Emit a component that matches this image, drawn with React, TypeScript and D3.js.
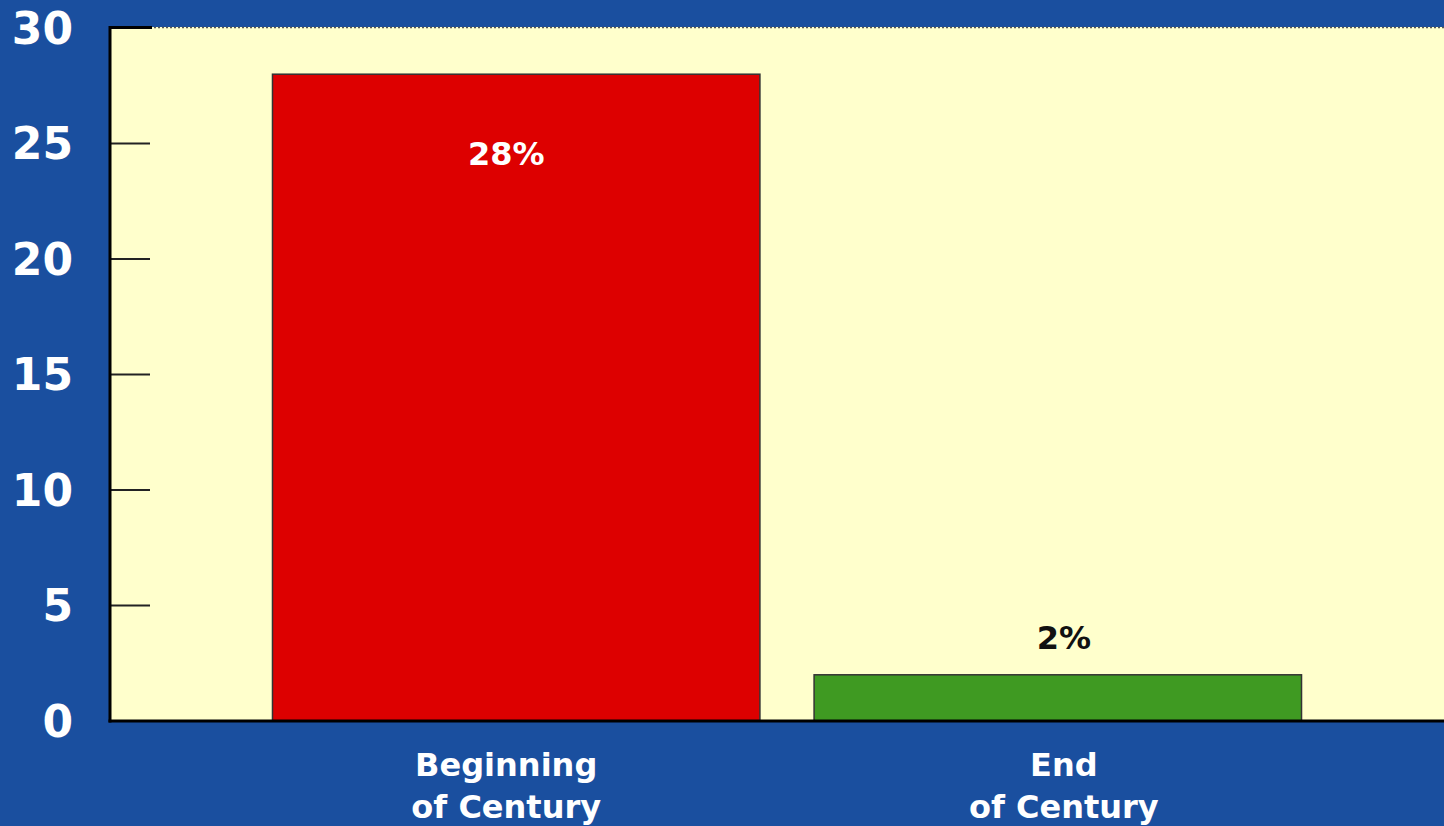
import React from "react";
import * as d3 from "d3";

const categories: string[][] = [["Beginning", "of Century"], ["End", "of Century"]];
const values: number[] = [28, 2];
const valueLabels: string[] = ["28%", "2%"];
const barColors: string[] = ["#dd0000", "#3f9a22"];
const yTicks: number[] = [0, 5, 10, 15, 20, 25, 30];
const labelShift: number[] = [-10, 6];

const W = 1444;
const H = 826;
const left = 110;
const top = 27;
const bottom = 721;

export default function App() {
  const y = d3.scaleLinear().domain([0, 30]).range([bottom, top + 1]);
  const x = d3
    .scaleBand<number>()
    .domain(values.map((_, i) => i))
    .range([left, 1464])
    .paddingInner(0.1)
    .paddingOuter(0.3);
  const font = "'DejaVu Sans', Verdana, sans-serif";
  return (
    <svg width={W} height={H} style={{ position: "absolute", left: 0, top: 0 }}>
      <rect x={0} y={0} width={W} height={H} fill="#1a4f9f" />
      <rect x={left} y={top} width={W - left} height={bottom - top} fill="#ffffcc" />
      <line x1={left} x2={W} y1={top + 0.5} y2={top + 0.5} stroke="#555" strokeWidth={1.5} strokeDasharray="2,2" />
      <line x1={left} x2={152} y1={top + 0.5} y2={top + 0.5} stroke="#000" strokeWidth={3} />
      {values.map((v, i) => (
        <rect
          key={i}
          x={x(i)}
          y={y(v)}
          width={x.bandwidth()}
          height={bottom - y(v)}
          fill={barColors[i]}
          stroke="#333"
          strokeWidth={1.5}
        />
      ))}
      {yTicks.map((t) => (
        <g key={t}>
          {t > 0 && t < 30 && (
            <line x1={left} x2={150} y1={y(t)} y2={y(t)} stroke="#222" strokeWidth={2} />
          )}
          <text
            x={73}
            y={y(t)}
            dy="0.36em"
            textAnchor="end"
            fill="#fff"
            fontFamily={font}
            fontWeight="bold"
            fontSize={44}
          >
            {t}
          </text>
        </g>
      ))}
      <line x1={left} x2={left} y1={top - 1} y2={bottom + 1.5} stroke="#000" strokeWidth={3} />
      <line x1={left - 1.5} x2={W} y1={bottom} y2={bottom} stroke="#000" strokeWidth={3} />
      {values.map((v, i) => {
        const cx = x(i)! + x.bandwidth() / 2 + labelShift[i];
        const inside = v > 10;
        return (
          <text
            key={"v" + i}
            x={cx}
            y={inside ? y(v) + 91 : y(v) - 26}
            textAnchor="middle"
            fill={inside ? "#fff" : "#111"}
            fontFamily={font}
            fontWeight="bold"
            fontSize={32}
          >
            {valueLabels[i]}
          </text>
        );
      })}
      {categories.map((lines, i) => {
        const cx = x(i)! + x.bandwidth() / 2 + labelShift[i];
        return (
          <text
            key={"c" + i}
            textAnchor="middle"
            fill="#fff"
            fontFamily={font}
            fontWeight="bold"
            fontSize={32}
          >
            {lines.map((l, j) => (
              <tspan key={j} x={cx} y={776 + j * 42}>
                {l}
              </tspan>
            ))}
          </text>
        );
      })}
    </svg>
  );
}
